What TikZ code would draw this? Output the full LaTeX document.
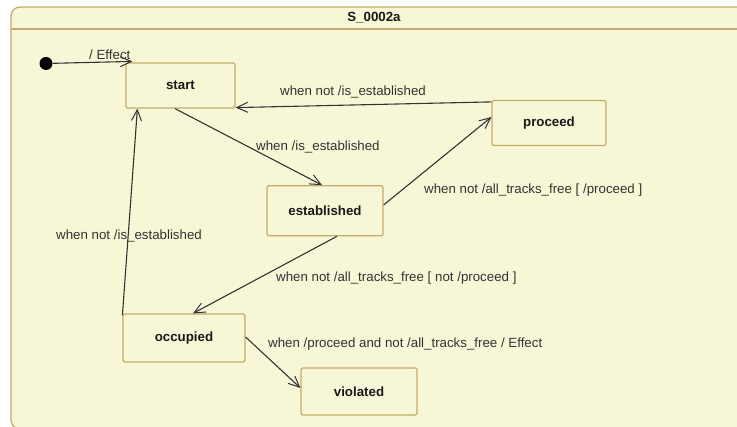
\documentclass[tikz,border=0pt]{standalone}
\usepackage{fontspec}
\setmainfont{Liberation Sans}
\usetikzlibrary{arrows.meta,calc}
\definecolor{paper}{RGB}{247,247,215}
\definecolor{rim}{RGB}{197,170,108}
\definecolor{ink}{RGB}{51,51,51}
\begin{document}
\begin{tikzpicture}[x=1pt,y=-1pt,
  font=\fontsize{13.3}{15}\selectfont,
  statebox/.style={draw=rim, fill=paper, line width=1.2pt, rounded corners=1.5pt,
    inner sep=0pt, font=\fontsize{13.3}{15}\selectfont\bfseries, text=black!90},
  trans/.style={draw=ink, line width=1.1pt,
    -{Straight Barb[length=11pt,width=10pt,line width=1pt]}},
  guard/.style={anchor=base west, inner sep=0pt, text=ink}]
\useasboundingbox (0,0) rectangle (737,427);
\clip (0,0) rectangle (737,427);

% enclosing state machine frame
\draw[rim, fill=paper, line width=1.3pt, rounded corners=9pt]
  (11,7) rectangle (760,429);
\draw[rim, line width=1.3pt] (11,29) -- (737,29);
\node[font=\fontsize{13.3}{15}\selectfont\bfseries, text=black!90] (title) at (374,18) {S\_0002a};

% states
\node[statebox, minimum width=109pt, minimum height=45pt] (start) at (180.5,85.5) {start};
\node[statebox, minimum width=114pt, minimum height=45pt] (proceed) at (549,123) {proceed};
\node[statebox, minimum width=116pt, minimum height=50pt] (established) at (325,210.7) {established};
\node[statebox, minimum width=122pt, minimum height=48pt] (occupied) at (184,338) {occupied};
\node[statebox, minimum width=116pt, minimum height=47pt] (violated) at (359,391.5) {violated};

% initial pseudostate
\node[circle, fill=black, inner sep=0pt, minimum size=13pt] (init) at (46,63.5) {};

% transitions
\draw[trans] (init) -- ($(start.north west)+(7,-1)$);
\draw[trans] ($(proceed.north west)+(0,2)$) -- ($(start.south east)+(0,-1)$);
\draw[trans] ($(start.south)+(-5.5,0)$) -- ($(established.north)+(-3,0)$);
\draw[trans] ($(established.east)+(0,-5.7)$) -- ($(proceed.west)+(0,-6)$);
\draw[trans] ($(established.south)+(12,0)$) -- ($(occupied.north)+(9,0)$);
\draw[trans] ($(occupied.north west)+(0,2)$) -- ($(start.south west)+(12,0)$);
\draw[trans] ($(occupied.east)+(0,-1)$) -- ($(violated.west)+(0,-3.5)$);

% transition labels
\node[guard] (l1) at (89,60) {/ Effect};
\node[guard] (l2) at (280,95.5) {when not /is\_established};
\node[guard] (l3) at (256,150.5) {when /is\_established};
\node[guard] (l4) at (424,194) {when not /all\_tracks\_free [ /proceed ]};
\node[guard] (l5) at (276,282) {when not /all\_tracks\_free [ not /proceed ]};
\node[guard] (l6) at (56,240) {when not /is\_established};
\node[guard] (l7) at (268,348) {when /proceed and not /all\_tracks\_free / Effect};
\end{tikzpicture}
\end{document}
